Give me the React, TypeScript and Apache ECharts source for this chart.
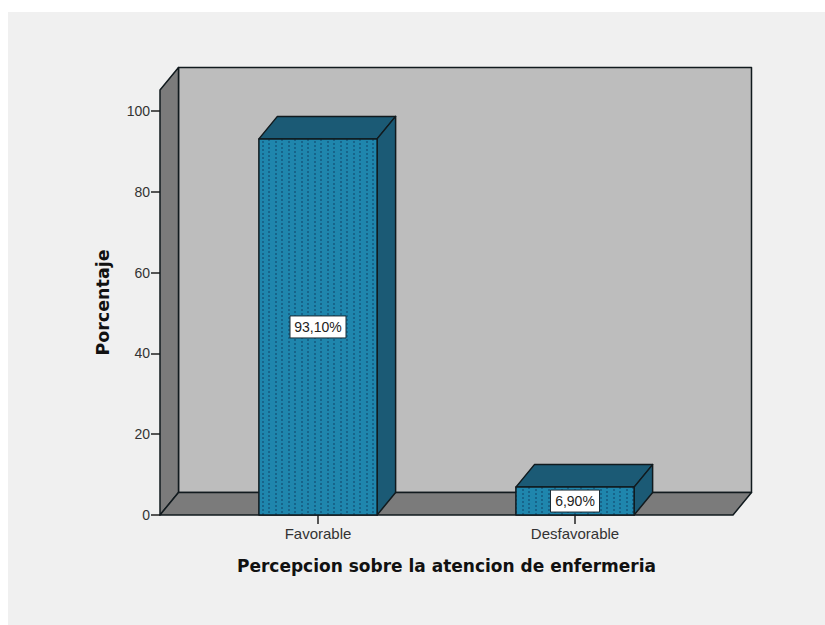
import React, { useEffect, useRef } from "react";
import * as echarts from "echarts";

const categories = ["Favorable", "Desfavorable"];
const percentages = [93.1, 6.9];
const percentLabels = ["93,10%", "6,90%"];
const yTicks = [0, 20, 40, 60, 80, 100];
const xTitle = "Percepcion sobre la atencion de enfermeria";
const yTitle = "Porcentaje";

const DX = 18.5;
const DY = -22.5;
const AXIS_MAX = 105.2;
const LINE = "#111a1e";

function dotPattern() {
  const c = document.createElement("canvas");
  c.width = 13;
  c.height = 8;
  const g = c.getContext("2d")!;
  g.fillStyle = "#1f86ad";
  g.fillRect(0, 0, 13, 8);
  g.fillStyle = "#17648a";
  g.fillRect(2, 1, 2, 2);
  g.fillRect(2, 5, 2, 2);
  g.fillRect(8, 3, 2, 2);
  g.fillRect(8, 7, 2, 1);
  g.fillRect(8, 0, 2, 1);
  return c.toDataURL();
}

function renderWalls(params: any, api: any) {
  const y0 = api.coord([0, 0])[1];
  const yTop = api.coord([0, AXIS_MAX])[1];
  const cs = params.coordSys;
  const bandW = cs.width / categories.length;
  const l = cs.x - bandW * 0.1148;
  const r = cs.x + cs.width + bandW * 0.1148;
  const lineStyle = { stroke: LINE, lineWidth: 1.5, lineJoin: "round" };
  return {
    type: "group",
    children: [
      {
        type: "polygon",
        shape: { points: [[l + DX, yTop + DY], [r + DX, yTop + DY], [r + DX, y0 + DY], [l + DX, y0 + DY]] },
        style: { fill: "#bdbdbd", ...lineStyle },
      },
      {
        type: "polygon",
        shape: { points: [[l, yTop], [l + DX, yTop + DY], [l + DX, y0 + DY], [l, y0]] },
        style: { fill: "#7b7b7b", ...lineStyle },
      },
      {
        type: "polygon",
        shape: { points: [[l, y0], [l + DX, y0 + DY], [r + DX, y0 + DY], [r, y0]] },
        style: { fill: "#7b7b7b", ...lineStyle },
      },
    ],
  };
}

function renderBar(pattern: string) {
  return (params: any, api: any) => {
    const idx = api.value(0);
    const val = api.value(1);
    const [cx, yTop] = api.coord([idx, val]);
    const y0 = api.coord([idx, 0])[1];
    const w = api.size([1, 0])[0] * 0.46;
    const l = cx - w / 2;
    const r = cx + w / 2;
    const lineStyle = { stroke: LINE, lineWidth: 1.5, lineJoin: "round" };
    const cy = (yTop + y0) / 2;
    const text = percentLabels[params.dataIndex];
    const boxW = text.length > 5 ? 56 : 49;
    return {
      type: "group",
      children: [
        {
          type: "polygon",
          shape: { points: [[l, yTop], [l + DX, yTop + DY], [r + DX, yTop + DY], [r, yTop]] },
          style: { fill: "#1b5a75", ...lineStyle },
        },
        {
          type: "polygon",
          shape: { points: [[r, yTop], [r + DX, yTop + DY], [r + DX, y0 + DY], [r, y0]] },
          style: { fill: "#1b5a75", ...lineStyle },
        },
        {
          type: "rect",
          shape: { x: l, y: yTop, width: w, height: y0 - yTop },
          style: { fill: { image: pattern, repeat: "repeat" }, ...lineStyle },
        },
        {
          type: "rect",
          shape: { x: cx - boxW / 2, y: cy - 11, width: boxW, height: 22 },
          style: { fill: "#ffffff", stroke: "#1a2c36", lineWidth: 1 },
        },
        {
          type: "text",
          x: cx,
          y: cy,
          style: {
            text,
            fill: "#222222",
            font: "14px 'Liberation Sans'",
            align: "center",
            verticalAlign: "middle",
          },
        },
      ],
    };
  };
}

export default function App() {
  const ref = useRef<HTMLDivElement>(null);
  useEffect(() => {
    const chart = echarts.init(ref.current!, null, { renderer: "svg" });
    const pattern = dotPattern();
    const gridH = 404 * (AXIS_MAX / 100);
    chart.setOption({
      animation: false,
      backgroundColor: "#ffffff",
      graphic: [
        {
          type: "rect",
          z: -10,
          silent: true,
          shape: { x: 8, y: 12, width: 817, height: 613 },
          style: { fill: "#f0f0f0" },
        },
      ],
      grid: { left: 189.5, width: 514, top: 515 - gridH, height: gridH },
      xAxis: {
        type: "category",
        data: categories,
        name: xTitle,
        nameLocation: "middle",
        nameGap: 42,
        nameTextStyle: { fontFamily: "'DejaVu Sans'", fontWeight: "bold", fontSize: 17, color: "#111111" },
        axisLine: { show: false },
        axisTick: { show: true, alignWithLabel: true, length: 9, lineStyle: { color: "#222222", width: 1.5 } },
        axisLabel: { fontFamily: "'Liberation Sans'", fontSize: 15, color: "#333333", margin: 11 },
      },
      yAxis: {
        type: "value",
        min: 0,
        max: AXIS_MAX,
        interval: 20,
        offset: 29.5,
        name: yTitle,
        nameLocation: "middle",
        nameGap: 48,
        nameRotate: 90,
        nameTextStyle: { fontFamily: "'DejaVu Sans'", fontWeight: "bold", fontSize: 17.5, color: "#111111" },
        axisLine: { show: false },
        axisTick: { show: true, length: 9, customValues: yTicks, lineStyle: { color: "#222222", width: 1.5 } },
        axisLabel: { fontFamily: "'Liberation Sans'", fontSize: 14, color: "#333333", margin: 10, customValues: yTicks },
        splitLine: { show: false },
      },
      series: [
        { type: "custom", silent: true, z: 1, clip: false, renderItem: renderWalls, data: [[0, 0]] },
        {
          type: "custom",
          z: 2,
          clip: false,
          renderItem: renderBar(pattern),
          encode: { x: 0, y: 1 },
          data: percentages.map((v, i) => [i, v]),
        },
      ],
    });
    return () => chart.dispose();
  }, []);
  return (
    <div
      ref={ref}
      style={{ position: "absolute", left: 0, top: 0, width: 825, height: 625 }}
    />
  );
}
